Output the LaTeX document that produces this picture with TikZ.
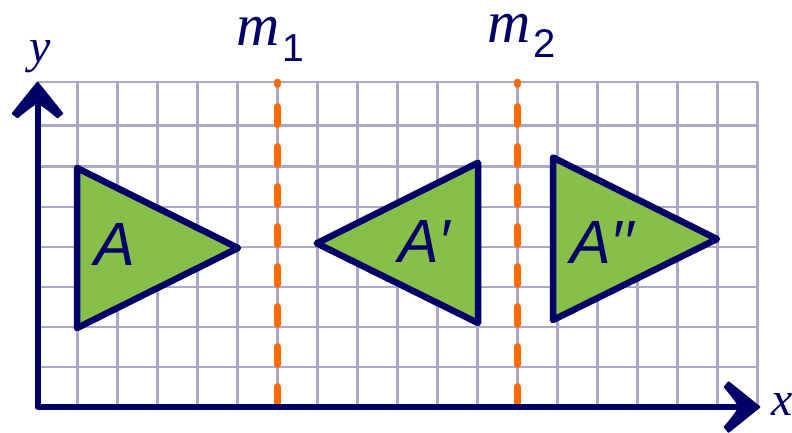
\documentclass[tikz,border=0pt]{standalone}
\usepackage{fontspec}
\setmainfont{Liberation Serif}
\setsansfont{Liberation Sans}
\definecolor{navy}{RGB}{0,0,102}
\definecolor{leaf}{RGB}{134,192,74}
\definecolor{mirror}{RGB}{255,106,0}
\definecolor{gridc}{RGB}{170,170,200}
\tikzset{
  gridline/.style={draw=gridc,line width=2.3bp},
  mirrorline/.style={draw=mirror,line width=6.8bp,line cap=round,dash pattern=on 18bp off 22bp,dash phase=15.5bp},
  tri/.style={draw=navy,fill=leaf,line width=6.5bp,line join=round},
  axis/.style={draw=navy,line width=6bp,line cap=round,line join=round},
  axhead/.pic={\filldraw[navy,line width=1.5bp,line join=round] (0,0.8) .. controls (9,12) and (18,23) .. (25,32) -- (20,36) .. controls (14,31) and (8,26) .. (3,23) -- (-3,23) .. controls (-8,26) and (-14,31) .. (-20,36) -- (-25,32) .. controls (-18,23) and (-9,12) .. (0,0.8) -- cycle;},
  lab/.style={inner sep=0pt,text=navy,font=\sffamily\itshape\fontsize{61bp}{61bp}\selectfont},
  axlab/.style={inner sep=0pt,text=navy,font=\rmfamily\itshape\fontsize{48bp}{48bp}\selectfont},
  mlab/.style={inner sep=0pt,text height=31bp,text depth=17bp,text=navy,font=\rmfamily\itshape\fontsize{60bp}{60bp}\selectfont},
}
\begin{document}
\begin{tikzpicture}[x=1bp,y=-1bp]
\useasboundingbox (0,0) rectangle (792,432);
% grid
\foreach \k in {1,...,18} \draw[gridline] (37.5+40*\k,82) -- (37.5+40*\k,407);
\foreach \yy in {82,125.5,166.5,207,247,287,327,367} \draw[gridline] (37.5,\yy) -- (757.5,\yy);
% mirror lines
\coordinate (m1top) at (277.5,82);
\coordinate (m1bot) at (277.5,407);
\coordinate (m2top) at (517.5,82);
\coordinate (m2bot) at (517.5,407);
\draw[mirrorline] (m1top) -- (m1bot);
\draw[mirrorline] (m2top) -- (m2bot);
% triangles
\draw[tri] (77,168) -- (77,328) -- (238,248) -- cycle;
\draw[tri] (316.7,243.3) -- (478,162.7) -- (478,323) -- cycle;
\draw[tri] (553,157.5) -- (553,320) -- (717,239) -- cycle;
% axes
\coordinate (O) at (37.5,407);
\coordinate (ytop) at (37.5,100);
\coordinate (xend) at (743,407);
\draw[axis] (ytop) -- (O) -- (xend);
\pic at (37.5,81.5) {axhead};
\pic[rotate=-90] at (760.5,407) {axhead};
% labels
\node[lab,anchor=base] (la) at (115,265) {A};
\node[lab,anchor=base west] (lb) at (398,262) {A\symbol{"2032}};
\node[lab,anchor=base west] (lc) at (570,263) {A\symbol{"2032}\symbol{"2032}};
\node[axlab,anchor=base] (ly) at (40,62) {y};
\node[axlab,anchor=base west] (lx) at (771,415) {x};
\node[mlab,anchor=base west] (lm1) at (236,45) {m\raisebox{-16bp}{\upshape\sffamily\fontsize{39bp}{39bp}\selectfont\hspace{3bp}1}};
\node[mlab,anchor=base west] (lm2) at (487,42) {m\raisebox{-15bp}{\upshape\sffamily\fontsize{40bp}{40bp}\selectfont\hspace{3bp}2}};
\end{tikzpicture}
\end{document}
